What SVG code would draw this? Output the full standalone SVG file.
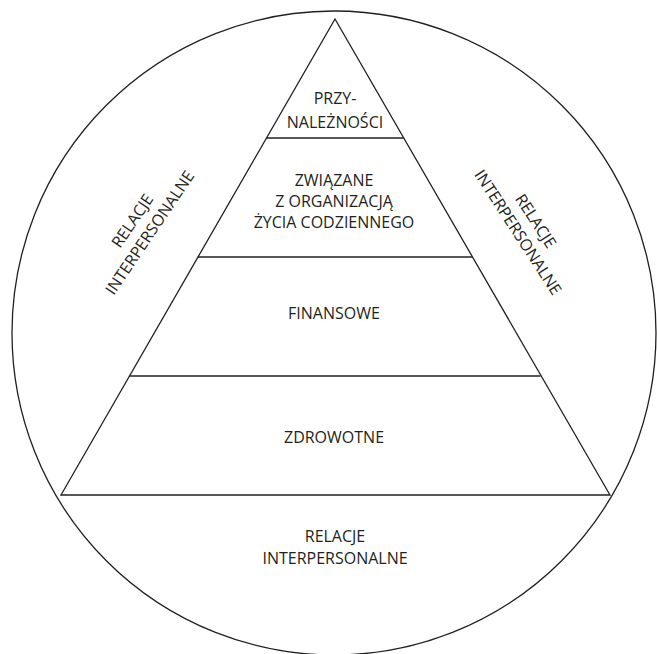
<svg xmlns="http://www.w3.org/2000/svg" width="657" height="654" viewBox="0 0 657 654">
<style>
.ln{fill:none;stroke:#231f20;stroke-width:1.3}
.t{font-family:"Open Sans","Noto Sans",sans-serif;font-size:16px;fill:#231f20;text-anchor:middle}
</style>
<rect width="657" height="654" fill="#fff"/>
<g id="circle"><circle class="ln" cx="334" cy="333" r="322"/></g>
<g id="pyramid"><polygon class="ln" points="335,19 610,495 61,495"/></g>
<g id="connectors">
<line class="ln" x1="266.3" y1="138" x2="403.7" y2="138"/>
<line class="ln" x1="197.8" y1="257" x2="472.2" y2="257"/>
<line class="ln" x1="129.5" y1="376" x2="540.5" y2="376"/>
</g>
<g id="n-przynaleznosci"><text class="t" x="335" y="104">PRZY-</text><text class="t" x="335" y="128">NALEŻNOŚCI</text></g>
<g id="n-zwiazane"><text class="t" x="334" y="186">ZWIĄZANE</text><text class="t" x="334" y="207">Z ORGANIZACJĄ</text><text class="t" x="334" y="228">ŻYCIA CODZIENNEGO</text></g>
<g id="n-finansowe"><text class="t" x="334" y="319">FINANSOWE</text></g>
<g id="n-zdrowotne"><text class="t" x="334" y="443">ZDROWOTNE</text></g>
<g id="n-relacje-bottom"><text class="t" x="335" y="542">RELACJE</text><text class="t" x="335" y="564">INTERPERSONALNE</text></g>
<g id="n-relacje-left" transform="translate(137,224) rotate(-56)"><text class="t" x="0" y="0">RELACJE</text><text class="t" x="0" y="21">INTERPERSONALNE</text></g>
<g id="n-relacje-right" transform="translate(531,224) rotate(57)"><text class="t" x="0" y="0">RELACJE</text><text class="t" x="0" y="21">INTERPERSONALNE</text></g>
</svg>
